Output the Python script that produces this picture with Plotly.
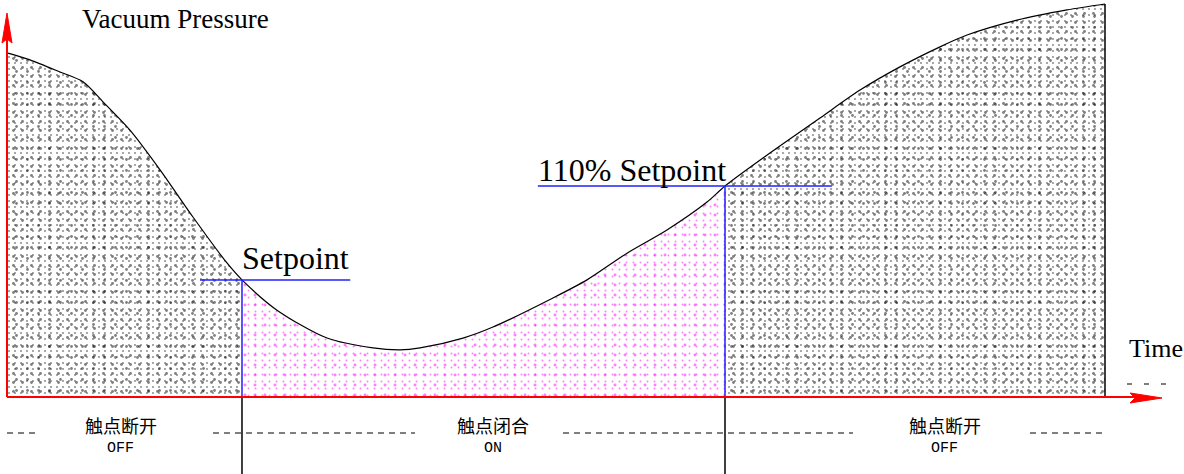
import plotly.graph_objects as go

# ---------------- data ----------------
time = [0.0, 2.0, 4.74, 6.84, 8.66, 11.12, 13.86, 16.86, 19.96, 21.33,
        24.52, 29.08, 33.27, 35.73, 37.56, 41.48, 44.21, 49.68, 52.78,
        56.43, 60.07, 63.72, 65.36, 69.46, 74.02, 77.67, 81.31, 84.96,
        87.42, 91.98, 96.54, 100.0]
pressure = [87.5, 85.8, 82.7, 80.2, 75.1, 67.9, 57.8, 45.8, 34.1, 29.8,
            22.1, 15.0, 12.5, 12.0, 12.5, 15.0, 17.8, 25.2, 29.8,
            36.6, 42.5, 49.6, 53.7, 62.1, 71.0, 78.1, 84.0, 89.1,
            92.1, 95.9, 98.5, 100.0]

setpoint_time = 21.33
setpoint = 29.8
high_setpoint_time = 65.36
high_setpoint = 53.7

state_labels_cn = ["触点断开", "触点闭合", "触点断开"]
state_labels_en = ["OFF", "ON", "OFF"]
state_label_time = [10.3, 44.2, 85.4]

# ---------------- layout helpers ----------------
W, H = 1184, 474
X_RANGE = [-8 / 10.97, 1176 / 10.97]
Y_RANGE = [(397 - 474) / 3.93, 397 / 3.93]


def px(x):
    return x / W


def py(y):
    return 1 - y / H


i1 = time.index(setpoint_time)
i2 = time.index(high_setpoint_time)
segments = [
    (time[:i1 + 1], pressure[:i1 + 1], "black"),
    (time[i1:i2 + 1], pressure[i1:i2 + 1], "#ff00ff"),
    (time[i2:], pressure[i2:], "black"),
]

fig = go.Figure()

# stippled fills: overlay of dot patterns with different pitches
for xs, ys, col in segments:
    if col == "black":
        layers = [(6, 0.07, "white"), (9, 0.08, "rgba(0,0,0,0)"),
                  (11, 0.05, "rgba(0,0,0,0)")]
    else:
        layers = [(7, 0.06, "white"), (10, 0.07, "rgba(0,0,0,0)")]
    for size, sol, bg in layers:
        fig.add_trace(go.Scatter(
            x=xs, y=ys, mode="lines", fill="tozeroy",
            line=dict(width=0, color="rgba(0,0,0,0)", shape="spline", smoothing=0.8),
            fillcolor=bg,
            fillpattern=dict(shape=".", fgcolor=col, bgcolor=bg, size=size, solidity=sol),
            hoverinfo="skip", showlegend=False,
        ))

# curve outline
fig.add_trace(go.Scatter(x=time, y=pressure, mode="lines",
                         line=dict(color="black", width=1.2, shape="spline", smoothing=0.8),
                         hoverinfo="skip", showlegend=False))

shapes = []
# right edge of the filled area
shapes.append(dict(type="line", xref="x", yref="y", x0=time[-1], x1=time[-1],
                   y0=0, y1=pressure[-1], line=dict(color="black", width=1.5)))

# setpoint markers
for t, p, span in [(setpoint_time, setpoint, (17.5, 31.2)),
                   (high_setpoint_time, high_setpoint, (48.3, 75.1))]:
    shapes.append(dict(type="line", xref="x", yref="y", x0=span[0], x1=span[1],
                       y0=p, y1=p, line=dict(color="#2020ff", width=1.5)))
    shapes.append(dict(type="line", xref="x", yref="y", x0=t, x1=t,
                       y0=0, y1=p, line=dict(color="#2020ff", width=1.5)))
    shapes.append(dict(type="line", xref="x", yref="paper", x0=t, x1=t,
                       y0=0, y1=py(397), line=dict(color="black", width=1.5)))

# red axes with arrows
shapes.append(dict(type="line", xref="paper", yref="paper", x0=px(7), x1=px(7),
                   y0=py(397), y1=py(20), line=dict(color="red", width=2)))
shapes.append(dict(type="line", xref="paper", yref="paper", x0=px(7), x1=px(1150),
                   y0=py(397), y1=py(397), line=dict(color="red", width=2)))
up = [(7, 13), (12, 43), (7, 39), (2, 43)]
right = [(1162, 398), (1130, 403), (1135, 398), (1130, 393)]
for pts in (up, right):
    path = "M " + " L ".join(f"{px(a):.5f},{py(b):.5f}" for a, b in pts) + " Z"
    shapes.append(dict(type="path", xref="paper", yref="paper", path=path,
                       fillcolor="red", line=dict(color="red", width=1)))

# dashed lines for the switch-state band
for x0, x1 in [(7, 35), (213, 415), (563, 853), (1030, 1105)]:
    shapes.append(dict(type="line", xref="paper", yref="paper", x0=px(x0), x1=px(x1),
                       y0=py(433), y1=py(433),
                       line=dict(color="black", width=1.2, dash="6px,5px")))
shapes.append(dict(type="line", xref="paper", yref="paper", x0=px(1127), x1=px(1168),
                   y0=py(384), y1=py(384),
                   line=dict(color="black", width=1.2, dash="5px,12px")))

annotations = []
serif = "Liberation Serif, Times New Roman, serif"


def text(s, x, y, size, xanchor="left", family=serif, xref="paper"):
    annotations.append(dict(text=s, x=x, y=py(y), xref=xref, yref="paper",
                            xanchor=xanchor, yanchor="middle", showarrow=False,
                            font=dict(family=family, size=size, color="black")))


text("Vacuum Pressure", px(80), 19, 27)
text("Setpoint", px(240), 258, 32)
text("110% Setpoint", px(536), 170, 32)
text("Time", px(1127), 348, 26)
for cn, en, t in zip(state_labels_cn, state_labels_en, state_label_time):
    text(cn, t, 425, 18, xanchor="center", family="Noto Sans CJK SC", xref="x")
    text(en, t, 448, 15, xanchor="center", family="Liberation Mono, monospace", xref="x")

fig.update_layout(
    width=W, height=H, margin=dict(l=0, r=0, t=0, b=0),
    paper_bgcolor="white", plot_bgcolor="white",
    xaxis=dict(range=X_RANGE, visible=False, fixedrange=True),
    yaxis=dict(range=Y_RANGE, visible=False, fixedrange=True),
    shapes=shapes, annotations=annotations, showlegend=False,
)

fig.write_html("out.html", config={"displayModeBar": False},
               post_script="document.body.style.margin='0';")
